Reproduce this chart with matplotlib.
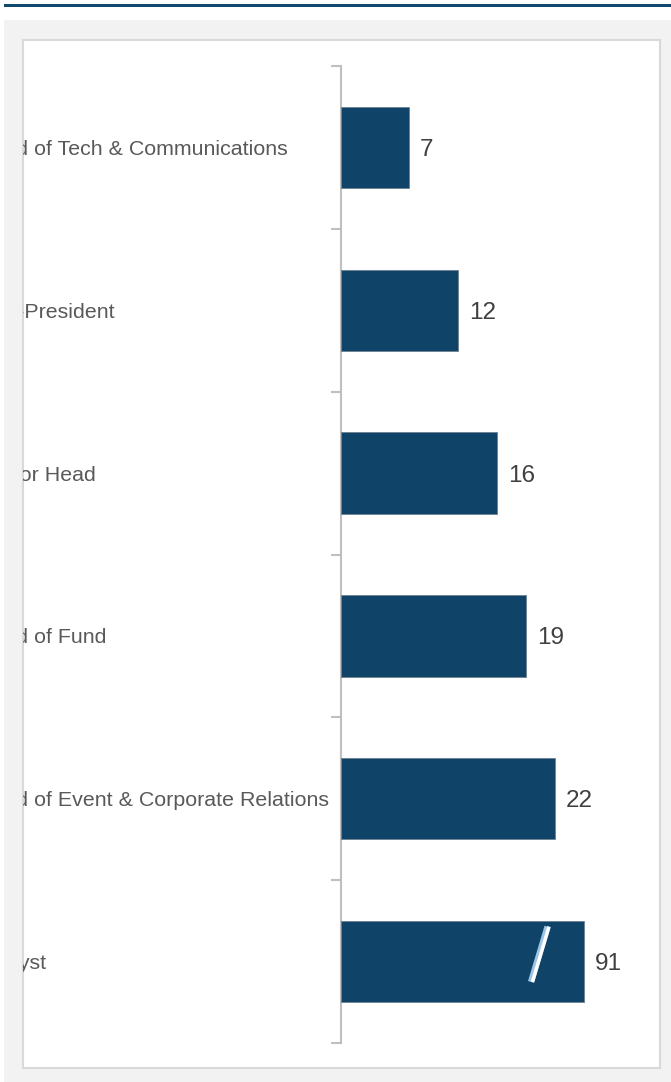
import matplotlib
matplotlib.use("Agg")
import matplotlib.pyplot as plt
from matplotlib.patches import Rectangle
from matplotlib.lines import Line2D
from matplotlib.transforms import blended_transform_factory

plt.rcParams['font.family'] = ['Liberation Sans', 'DejaVu Sans']

roles = ['Head of Tech & Communications', 'Vice-President', 'Sector Head',
         'Head of Fund', 'Head of Event & Corporate Relations', 'Analyst']
counts = [7, 12, 16, 19, 22, 91]
cap = 25  # the 91 bar is drawn broken at this length

W, H = 671, 1082
fig = plt.figure(figsize=(W / 100, H / 100), dpi=100)
fig.patch.set_facecolor('white')

def fx(px):
    return px / W

def fy(py):
    return 1 - py / H

# page furniture: top rule, grey card, white panel
fig.add_artist(Rectangle((fx(4), fy(7)), fx(671 - 4), 3 / H, transform=fig.transFigure,
                         facecolor='#0f4a6e', edgecolor='none', zorder=-10))
fig.add_artist(Rectangle((fx(4), 0), fx(671 - 4), fy(20), transform=fig.transFigure,
                         facecolor='#f2f2f2', edgecolor='none', zorder=-10))
panel = Rectangle((fx(23), fy(1068)), fx(660 - 23), (1068 - 40) / H, transform=fig.transFigure,
                  facecolor='white', edgecolor='#d9d9d9', linewidth=1.5, zorder=-9)
fig.add_artist(panel)

ax = fig.add_axes([fx(341), fy(1043), fx(650 - 341), (1043 - 66) / H])
ax.set_facecolor('none')
ax.set_xlim(0, (650 - 341) / 9.72)
ax.set_ylim(len(roles) - 0.5, -0.5)

shown = [min(c, cap) for c in counts]
ypos = list(range(len(roles)))
ax.barh(ypos, shown, height=0.5, color='#0f4468', edgecolor='#6f808e', linewidth=0.6, zorder=3)

for y, c, s in zip(ypos, counts, shown):
    ax.annotate(str(c), (s, y), xytext=(8, 0), textcoords='offset points',
                ha='left', va='center_baseline', fontsize=17.5, color='#404040')

# break mark on the capped bar
for y, c, s in zip(ypos, counts, shown):
    if c > cap:
        bx = s - 4.5
        by = y - 0.045
        ax.add_line(Line2D([bx - 0.95, bx + 0.75], [by + 0.17, by - 0.17], color='#9dc3e6',
                           linewidth=4.5, solid_capstyle='butt', zorder=4))
        ax.add_line(Line2D([bx - 0.8, bx + 0.9], [by + 0.17, by - 0.17], color='white',
                           linewidth=2.5, solid_capstyle='butt', zorder=5))

# category labels, left aligned and cut off by the panel edge
lab_tr = blended_transform_factory(fig.transFigure, ax.transData)
for y, r in zip(ypos, roles):
    t = fig.text(fx(-23), y, r, fontsize=15.4, color='#595959', ha='left', va='center_baseline',
                 transform=lab_tr)
    t.set_clip_path(panel)

for side in ['top', 'right', 'bottom']:
    ax.spines[side].set_visible(False)
ax.spines['left'].set_color('#bfbfbf')
ax.spines['left'].set_linewidth(1.5)
ax.set_xticks([])
ax.set_yticks([y - 0.5 for y in range(len(roles) + 1)])
ax.set_yticklabels([])
ax.tick_params(axis='y', length=7, width=1.5, color='#bfbfbf')

fig.savefig('out.png', dpi=100)
